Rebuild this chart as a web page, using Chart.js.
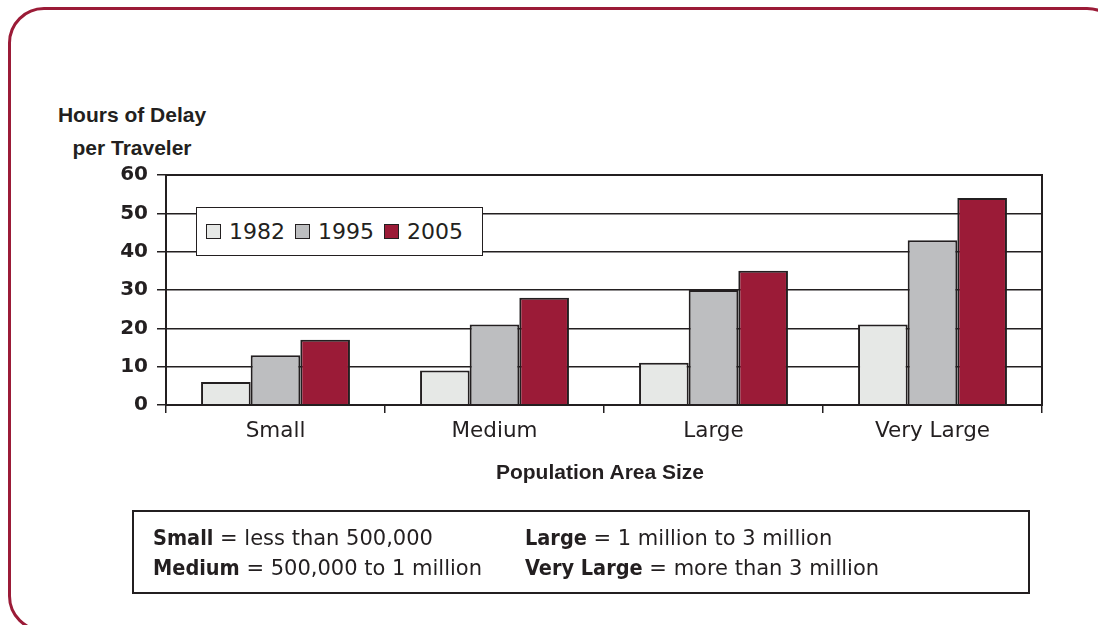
<!DOCTYPE html>
<html>
<head>
<meta charset="utf-8">
<script src="https://cdn.jsdelivr.net/npm/chart.js@4"></script>
<style>
    html, body { margin: 0; padding: 0; background: #fff; overflow: hidden; }
    #page { position: relative; width: 1098px; height: 625px; overflow: hidden; background: #fff; color: #231f20; }
    #frame { position: absolute; left: 8px; top: 7px; width: 1115px; height: 625px; box-sizing: border-box;
             border: 3px solid #9b1b37; border-radius: 36px; }
    #chartWrap { position: absolute; left: 0; top: 0; width: 1098px; height: 625px; }
    .yTitle { position: absolute; left: 32px; top: 98px; width: 200px; text-align: center;
              font: bold 21px "Liberation Sans", Arial, sans-serif; line-height: 33px; }
    .xTitle { position: absolute; left: 450px; top: 455px; width: 300px; text-align: center;
              font: bold 21px "Liberation Sans", Arial, sans-serif; line-height: 33px; }
    #legend { position: absolute; left: 196px; top: 207px; width: 287px; height: 49px; box-sizing: border-box;
              border: 1.5px solid #231f20; background: #fff; display: flex; align-items: center; padding-left: 9px;
              font: 22px "DejaVu Sans", sans-serif; }
    #legend .item { display: flex; align-items: center; margin-right: 10px; }
    #legend .sw { width: 13px; height: 13px; border: 1.5px solid #231f20; margin-right: 8px; }
    #defs { position: absolute; left: 132px; top: 510px; width: 898px; height: 84px; box-sizing: border-box;
            border: 2px solid #231f20; }
    .defLine { position: absolute; font: 21px "DejaVu Sans", sans-serif; line-height: 30px; white-space: nowrap; }
    .defLine b { font-family: "DejaVu Sans Condensed", "DejaVu Sans", sans-serif; font-stretch: condensed; font-size: 21.5px; }
</style>
</head>
<body>
<div id="page">
    <div id="frame"></div>
    <div class="yTitle">Hours of Delay<br>per Traveler</div>
    <div id="chartWrap"><canvas id="delayChart"></canvas></div>
    <div id="legend"></div>
    <div class="xTitle">Population Area Size</div>
    <div id="defs"></div>
</div>
<script>
// 数据
const categories = ['Small', 'Medium', 'Large', 'Very Large'];
const seriesNames = ['1982', '1995', '2005'];
const delay1982 = [6, 9, 11, 21];
const delay1995 = [13, 21, 30, 43];
const delay2005 = [17, 28, 35, 54];
const yTicks = [0, 10, 20, 30, 40, 50, 60];
const sizeDefs = [
    ['Small', 'less than 500,000'],
    ['Medium', '500,000 to 1 million'],
    ['Large', '1 million to 3 million'],
    ['Very Large', 'more than 3 million']
];

const colors = ['#e6e8e6', '#bdbec0', '#9b1b37'];
const ink = '#231f20';

// legend (html)
document.getElementById('legend').innerHTML = seriesNames.map((n, i) =>
    '<div class="item"><div class="sw" style="background:' + colors[i] + '"></div><span>' + n + '</span></div>'
).join('');

// definitions box
const defPos = [[153, 523], [153, 553], [525, 523], [525, 553]];
document.getElementById('page').insertAdjacentHTML('beforeend', sizeDefs.map((d, i) =>
    '<div class="defLine" style="left:' + defPos[i][0] + 'px;top:' + defPos[i][1] + 'px"><b>' + d[0] + '</b> = ' + d[1] + '</div>'
).join(''));

// plot border (top + right)
const plotBox = {
    id: 'plotBox',
    afterDatasetsDraw(chart) {
        const a = chart.chartArea, ctx = chart.ctx;
        ctx.save();
        ctx.strokeStyle = ink;
        ctx.lineWidth = 2;
        ctx.strokeRect(a.left, a.top, a.right - a.left, a.bottom - a.top);
        ctx.restore();
    }
};

const allData = [delay1982, delay1995, delay2005];
new Chart(document.getElementById('delayChart'), {
    type: 'bar',
    data: {
        labels: categories,
        datasets: seriesNames.map((n, i) => ({
            label: n, data: allData[i], backgroundColor: colors[i],
            borderColor: ink, borderWidth: 2,
            categoryPercentage: 0.68, barPercentage: 1
        }))
    },
    options: {
        responsive: true,
        maintainAspectRatio: false,
        animation: false,
        layout: { padding: { top: 175, right: 56, left: 0, bottom: 0 } },
        plugins: { legend: { display: false }, tooltip: { enabled: false } },
        scales: {
            x: {
                afterFit: s => { s.height = 220; },
                grid: { offset: true, drawOnChartArea: false, color: ink, lineWidth: 1.5, tickLength: 8 },
                border: { color: ink, width: 2 },
                ticks: { color: ink, padding: 6, font: { family: 'DejaVu Sans', size: 21.5 } }
            },
            y: {
                min: 0, max: 60,
                afterFit: s => { s.width = 166; },
                afterBuildTicks: s => { s.ticks = yTicks.map(v => ({ value: v })); },
                grid: { color: ink, lineWidth: 1.5, tickLength: 9 },
                border: { color: ink, width: 2 },
                ticks: { color: ink, padding: 9, font: { family: 'DejaVu Sans', size: 20, weight: 'bold' } }
            }
        }
    },
    plugins: [plotBox]
});
</script>
</body>
</html>
